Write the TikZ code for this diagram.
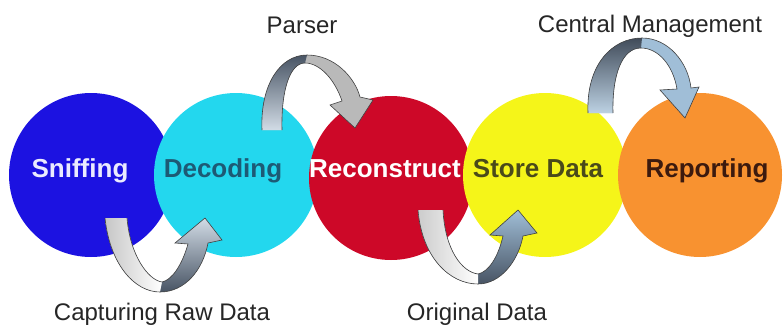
\documentclass[tikz,border=0pt]{standalone}
\usepackage{fontspec}
\setmainfont{Liberation Sans}
\usetikzlibrary{positioning}

\definecolor{sniffblue}{RGB}{28,18,225}
\definecolor{decodecyan}{RGB}{35,215,238}
\definecolor{rebuildred}{RGB}{205,8,40}
\definecolor{storeyellow}{RGB}{245,245,25}
\definecolor{reportorange}{RGB}{248,146,48}
\definecolor{arrowdark}{RGB}{72,84,100}
\definecolor{arrowlight}{RGB}{210,220,230}
\definecolor{arrowblue}{RGB}{160,190,215}

\begin{document}
\begin{tikzpicture}[x=1pt, y=-1pt]
\tikzstyle{stage node}=[circle, minimum size=164pt, inner sep=0pt]
\tikzstyle{stage text}=[font=\bfseries\fontsize{26}{26}\selectfont, anchor=base, inner sep=0pt]
\tikzstyle{step label}=[font=\fontsize{24}{24}\selectfont, text=black!85, anchor=base, inner sep=0pt]
\tikzstyle{arrow edge}=[draw=black!75, line width=0.6pt]

\useasboundingbox (0,0) rectangle (784,327);

% 五个阶段
\node[stage node, fill=sniffblue] (S1) at (91,175) {};
\node[stage node, fill=decodecyan] (S2) at (236,175) {};
\node[stage node, fill=rebuildred] (S3) at (391,178) {};
\node[stage node, fill=storeyellow] (S4) at (545,175) {};
\node[stage node, fill=reportorange] (S5) at (700,175) {};

% 上方弧形箭头
\fill[gray!55] (262,130) .. controls (260,85) and (280,55) .. (307,55) .. controls (335,55) and (355,78) .. (360,97) -- (373,100) -- (355,128) -- (330,105) -- (342,101) .. controls (335,80) and (320,63) .. (305,63) .. controls (290,63) and (281,90) .. (282,130) -- cycle;
\shade[top color=arrowdark, bottom color=arrowlight] (262,130) .. controls (260,85) and (280,55) .. (307,55) -- (305,63) .. controls (290,63) and (281,90) .. (282,130) -- cycle;
\draw[arrow edge] (262,130) .. controls (260,85) and (280,55) .. (307,55) .. controls (335,55) and (355,78) .. (360,97) -- (373,100) -- (355,128) -- (330,105) -- (342,101) .. controls (335,80) and (320,63) .. (305,63) .. controls (290,63) and (281,90) .. (282,130);

\fill[arrowblue] (588,113) .. controls (586,65) and (612,38) .. (642,38) .. controls (668,38) and (688,62) .. (691,88) -- (699,87) -- (685,118) -- (660,90) -- (677,89) .. controls (673,65) and (658,48) .. (641,48) .. controls (622,48) and (612,75) .. (613,113) -- cycle;
\shade[top color=arrowdark!90!black, bottom color=arrowblue!70!white] (588,113) .. controls (586,65) and (612,38) .. (642,38) -- (641,48) .. controls (622,48) and (612,75) .. (613,113) -- cycle;
\draw[arrow edge] (588,113) .. controls (586,65) and (612,38) .. (642,38) .. controls (668,38) and (688,62) .. (691,88) -- (699,87) -- (685,118) -- (660,90) -- (677,89) .. controls (673,65) and (658,48) .. (641,48) .. controls (622,48) and (612,75) .. (613,113);

% 下方弧形箭头
\shade[top color=arrowlight, bottom color=arrowdark] (105,218) .. controls (110,265) and (135,292) .. (160,292) .. controls (185,292) and (203,270) .. (208,243) -- (222,240) -- (205,218) -- (175,243) -- (188,244) .. controls (182,265) and (172,280) .. (162,282) .. controls (148,280) and (130,255) .. (127,218) -- cycle;
\shade[left color=gray!45, right color=white] (105,218) .. controls (110,265) and (135,292) .. (160,292) -- (162,282) .. controls (148,280) and (130,255) .. (127,218) -- cycle;
\draw[arrow edge] (105,218) .. controls (110,265) and (135,292) .. (160,292) .. controls (185,292) and (203,270) .. (208,243) -- (222,240) -- (205,218) -- (175,243) -- (188,244) .. controls (182,265) and (172,280) .. (162,282) .. controls (148,280) and (130,255) .. (127,218);

\shade[top color=arrowblue, bottom color=arrowdark] (418,210) .. controls (422,258) and (450,284) .. (478,284) .. controls (500,284) and (518,262) .. (523,236) -- (537,233) -- (518,210) -- (490,235) -- (503,236) .. controls (498,258) and (488,272) .. (478,274) .. controls (462,272) and (445,250) .. (443,210) -- cycle;
\shade[left color=gray!40, right color=white] (418,210) .. controls (422,258) and (450,284) .. (478,284) -- (478,274) .. controls (462,272) and (445,250) .. (443,210) -- cycle;
\draw[arrow edge] (418,210) .. controls (422,258) and (450,284) .. (478,284) .. controls (500,284) and (518,262) .. (523,236) -- (537,233) -- (518,210) -- (490,235) -- (503,236) .. controls (498,258) and (488,272) .. (478,274) .. controls (462,272) and (445,250) .. (443,210);

% 阶段名称
\node[stage text, text=blue!8] (T1) at (80,177) {Sniffing};
\node[stage text, text={rgb,255:red,29;green,90;blue,117}] (T2) at (223,177) {Decoding};
\node[stage text, text=white] (T3) at (385,177) {Reconstruct};
\node[stage text, text={rgb,255:red,74;green,74;blue,26}] (T4) at (538,177) {Store Data};
\node[stage text, text={rgb,255:red,60;green,26;blue,14}] (T5) at (707,177) {Reporting};

% 箭头说明
\node[step label] (L1) at (302,33) {Parser};
\node[step label] (L2) at (650,32) {Central Management};
\node[step label] (L3) at (162,320) {Capturing Raw Data};
\node[step label] (L4) at (477,320) {Original Data};

\end{tikzpicture}
\end{document}
